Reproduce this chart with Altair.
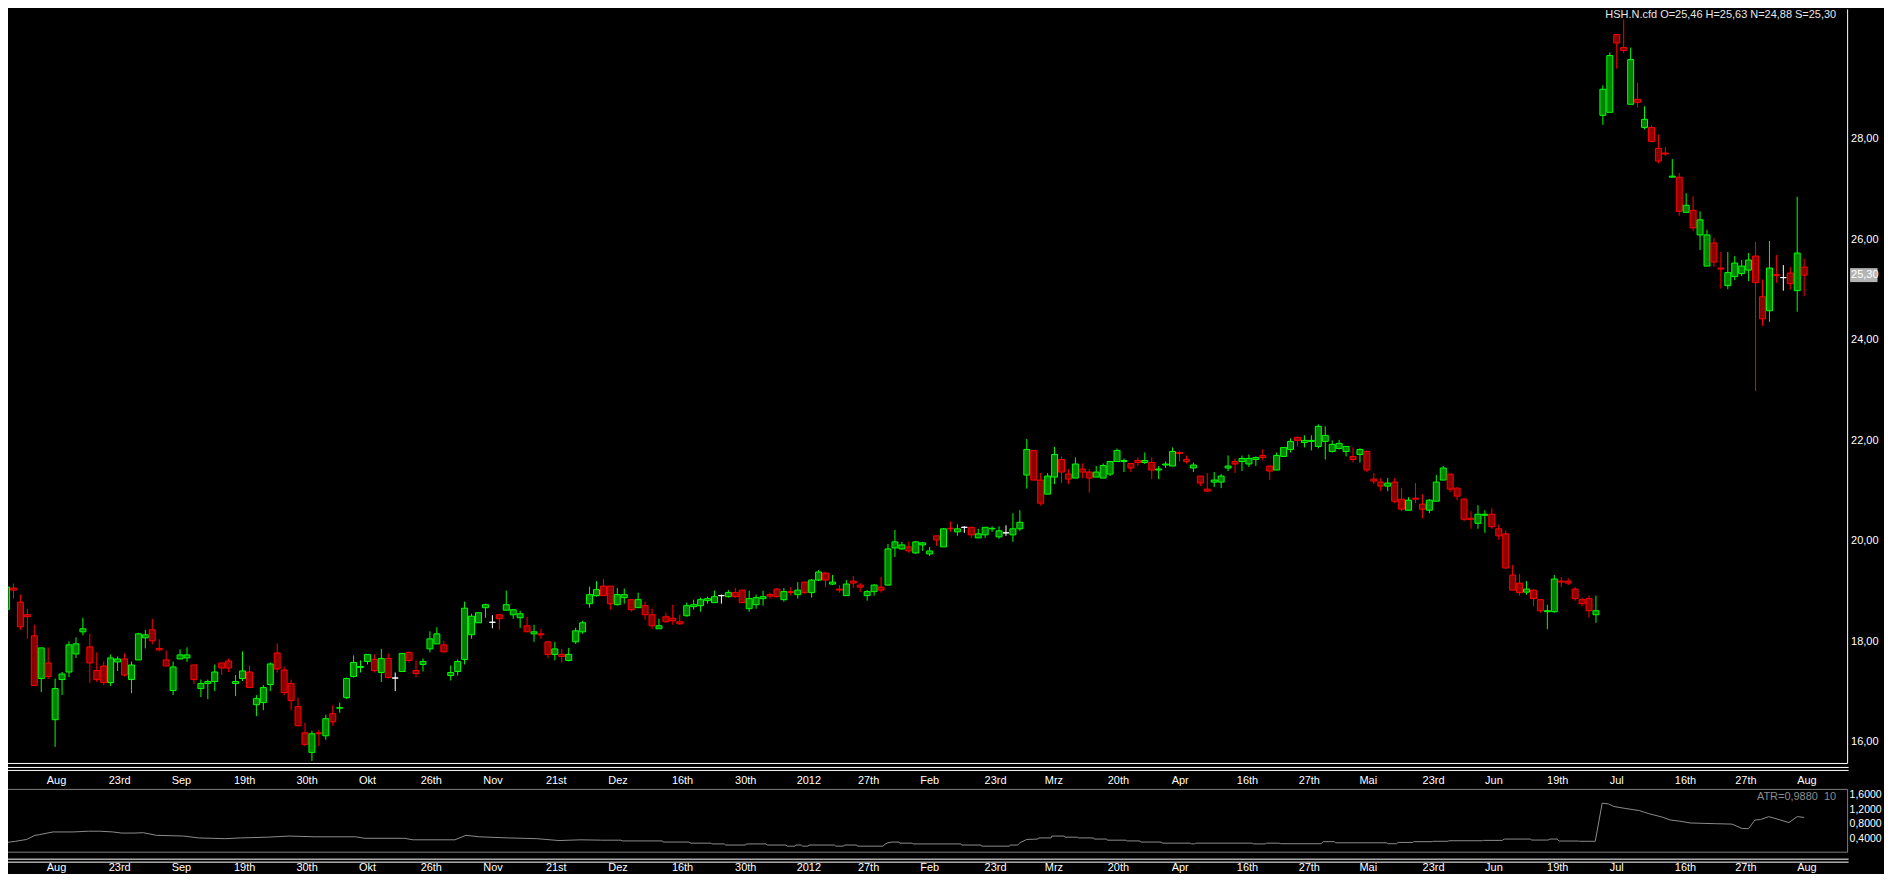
import altair as alt
import pandas as pd

FONT = "Liberation Sans"

# ---------------- data ----------------
opens = [
    18.65, 19.07, 18.79, 18.54, 18.12, 17.27, 17.58, 16.45, 17.25, 17.40,
    17.76, 18.20, 17.90, 17.43, 17.52, 17.19, 17.60, 17.66, 17.25, 17.64,
    18.08, 18.24, 17.87, 17.64, 17.03, 17.66, 17.68, 17.54, 17.07, 17.17,
    17.21, 17.58, 17.62, 17.17, 17.27, 17.40, 16.75, 16.79, 17.15, 17.78,
    17.44, 17.17, 16.71, 16.19, 15.80, 16.19, 16.13, 16.57, 16.68, 16.89,
    17.31, 17.49, 17.61, 17.65, 17.39, 17.67, 17.28, 17.41, 17.79, 17.43,
    17.55, 17.86, 17.96, 17.94, 17.33, 17.41, 17.65, 18.14, 18.38, 18.68,
    18.39, 18.54, 18.63, 18.54, 18.48, 18.32, 18.16, 18.16, 18.00, 17.75,
    17.75, 17.63, 18.00, 18.20, 18.76, 18.92, 19.11, 19.11, 18.74, 18.88,
    18.84, 18.68, 18.72, 18.54, 18.26, 18.50, 18.47, 18.40, 18.52, 18.70,
    18.72, 18.82, 18.78, 18.92, 18.90, 18.98, 19.03, 18.66, 18.74, 18.86,
    18.94, 19.05, 18.84, 19.00, 18.94, 19.19, 18.98, 19.23, 19.37, 19.15,
    19.05, 18.92, 19.21, 19.13, 18.92, 19.00, 19.09, 19.13, 19.87, 19.85,
    19.89, 19.77, 19.93, 19.75, 20.11, 19.89, 20.26, 20.19, 20.28, 20.28,
    20.07, 20.13, 20.25, 20.09, 20.17, 20.13, 20.25, 21.32, 21.81, 21.22,
    20.94, 21.28, 21.63, 21.34, 21.26, 21.44, 21.38, 21.28, 21.26, 21.34,
    21.59, 21.59, 21.55, 21.61, 21.57, 21.57, 21.42, 21.52, 21.50, 21.77,
    21.63, 21.46, 21.30, 21.04, 21.18, 21.18, 21.46, 21.59, 21.59, 21.54,
    21.63, 21.71, 21.50, 21.42, 21.69, 21.83, 22.07, 21.97, 21.99, 21.89,
    21.99, 21.79, 21.85, 21.79, 21.69, 21.73, 21.79, 21.24, 21.18, 21.10,
    21.18, 20.84, 20.62, 20.86, 20.74, 20.62, 20.80, 21.22, 21.34, 21.06,
    20.84, 20.46, 20.36, 20.52, 20.54, 20.25, 20.15, 19.33, 19.17, 18.99,
    19.03, 18.84, 18.60, 18.60, 19.21, 19.21, 19.05, 18.84, 18.86, 18.54,
    28.48, 28.54, 30.09, 29.83, 28.70, 28.80, 28.24, 28.24, 27.82, 27.73,
    27.25, 27.25, 26.55, 26.59, 26.10, 25.48, 25.94, 25.44, 25.09, 25.27,
    25.33, 25.40, 25.68, 24.87, 24.59, 25.31, 25.25, 25.34, 24.99, 25.46,
]
highs = [
    19.34, 19.16, 18.94, 18.66, 18.34, 17.88, 17.89, 17.27, 17.40, 18.01,
    18.09, 18.48, 18.16, 17.79, 17.61, 17.75, 17.71, 17.77, 17.61, 18.18,
    18.24, 18.46, 18.05, 17.83, 17.61, 17.85, 17.89, 17.54, 17.25, 17.25,
    17.55, 17.58, 17.67, 17.34, 17.81, 17.53, 16.94, 17.14, 17.59, 17.97,
    17.51, 17.25, 16.89, 16.39, 16.23, 16.25, 16.55, 16.74, 16.79, 17.29,
    17.73, 17.63, 17.75, 17.75, 17.86, 17.77, 17.39, 17.77, 17.81, 17.63,
    17.67, 18.21, 18.29, 18.02, 17.53, 17.65, 18.80, 18.56, 18.58, 18.76,
    18.53, 18.54, 19.02, 18.64, 18.62, 18.50, 18.34, 18.26, 18.00, 18.00,
    17.86, 17.88, 18.28, 18.42, 19.10, 19.21, 19.25, 19.11, 19.07, 19.06,
    18.84, 18.98, 18.80, 18.66, 18.46, 18.58, 18.74, 18.54, 18.78, 18.84,
    18.88, 18.90, 19.02, 18.94, 19.03, 19.07, 19.03, 19.02, 18.94, 19.02,
    18.98, 19.07, 19.07, 19.09, 19.19, 19.19, 19.25, 19.43, 19.39, 19.33,
    19.13, 19.23, 19.31, 19.17, 19.03, 19.15, 19.29, 19.95, 20.23, 19.99,
    19.99, 20.01, 19.99, 19.89, 20.11, 20.26, 20.40, 20.34, 20.30, 20.28,
    20.25, 20.28, 20.30, 20.30, 20.32, 20.56, 20.62, 22.04, 21.81, 21.36,
    21.36, 21.88, 21.69, 21.44, 21.67, 21.55, 21.44, 21.50, 21.55, 21.59,
    21.85, 21.65, 21.55, 21.67, 21.77, 21.67, 21.50, 21.59, 21.87, 21.79,
    21.71, 21.57, 21.30, 21.36, 21.38, 21.34, 21.71, 21.65, 21.71, 21.73,
    21.69, 21.83, 21.50, 21.77, 21.87, 22.05, 22.09, 22.11, 22.11, 22.33,
    22.29, 22.01, 22.02, 21.89, 21.87, 21.85, 21.81, 21.36, 21.26, 21.26,
    21.26, 21.06, 20.88, 21.16, 20.94, 20.84, 21.32, 21.50, 21.34, 21.08,
    20.86, 20.60, 20.72, 20.62, 20.66, 20.34, 20.22, 19.53, 19.35, 19.21,
    19.05, 18.84, 18.74, 19.33, 19.29, 19.27, 19.09, 18.88, 18.92, 18.92,
    29.08, 29.73, 30.09, 30.39, 29.83, 29.13, 28.66, 28.28, 28.10, 27.85,
    27.61, 27.33, 26.93, 26.87, 26.57, 26.20, 26.04, 25.76, 25.76, 25.68,
    25.60, 25.74, 25.96, 25.21, 25.98, 25.70, 25.50, 25.46, 26.86, 25.63,
]
lows = [
    18.65, 18.86, 18.24, 18.06, 17.13, 17.00, 17.26, 15.91, 16.94, 17.30,
    17.68, 18.13, 17.18, 17.20, 17.14, 17.12, 17.42, 17.31, 16.98, 17.64,
    17.87, 17.95, 17.81, 17.52, 16.94, 17.66, 17.60, 17.16, 16.90, 16.86,
    17.02, 17.34, 17.40, 16.92, 17.22, 17.09, 16.52, 16.64, 17.02, 17.39,
    16.94, 16.64, 16.33, 15.92, 15.63, 15.93, 16.05, 16.33, 16.59, 16.86,
    17.29, 17.39, 17.55, 17.39, 17.20, 17.27, 17.02, 17.41, 17.59, 17.30,
    17.41, 17.79, 17.96, 17.79, 17.23, 17.33, 17.55, 18.06, 18.38, 18.48,
    18.27, 18.24, 18.63, 18.46, 18.28, 18.20, 18.00, 18.06, 17.67, 17.63,
    17.59, 17.61, 17.96, 18.16, 18.68, 18.90, 18.92, 18.64, 18.72, 18.76,
    18.60, 18.68, 18.44, 18.26, 18.26, 18.38, 18.34, 18.34, 18.50, 18.64,
    18.60, 18.76, 18.78, 18.76, 18.88, 18.88, 18.78, 18.60, 18.66, 18.72,
    18.86, 18.88, 18.80, 18.92, 18.86, 18.96, 18.88, 19.21, 19.09, 19.13,
    18.98, 18.92, 19.07, 18.99, 18.82, 18.92, 18.98, 19.13, 19.69, 19.83,
    19.77, 19.75, 19.81, 19.71, 19.91, 19.89, 20.19, 20.11, 20.17, 20.07,
    20.07, 20.07, 20.19, 20.05, 20.11, 19.99, 20.21, 21.05, 21.22, 20.71,
    20.94, 21.14, 21.16, 21.14, 21.26, 21.26, 20.97, 21.28, 21.26, 21.30,
    21.59, 21.38, 21.38, 21.50, 21.54, 21.24, 21.24, 21.46, 21.50, 21.59,
    21.55, 21.38, 21.10, 20.98, 21.08, 21.06, 21.40, 21.36, 21.40, 21.48,
    21.50, 21.61, 21.22, 21.42, 21.69, 21.77, 21.89, 21.87, 21.81, 21.85,
    21.63, 21.77, 21.83, 21.69, 21.57, 21.57, 21.38, 21.14, 21.00, 21.00,
    20.76, 20.60, 20.62, 20.76, 20.46, 20.56, 20.80, 21.22, 20.98, 20.82,
    20.40, 20.25, 20.25, 20.17, 20.25, 20.03, 19.45, 19.03, 18.92, 18.94,
    18.71, 18.58, 18.25, 18.58, 19.09, 19.13, 18.82, 18.71, 18.48, 18.38,
    28.29, 28.54, 29.41, 29.72, 28.70, 28.64, 28.20, 27.94, 27.52, 27.67,
    27.25, 26.48, 26.55, 26.18, 25.80, 25.48, 25.46, 25.03, 25.02, 25.20,
    25.28, 25.18, 22.99, 24.29, 24.37, 25.15, 24.99, 25.01, 24.57, 24.88,
]
closes = [
    19.09, 19.03, 18.30, 18.50, 17.13, 17.88, 17.31, 17.07, 17.36, 17.94,
    17.96, 18.26, 17.58, 17.25, 17.19, 17.68, 17.66, 17.34, 17.54, 18.16,
    18.14, 18.02, 17.84, 17.52, 17.50, 17.74, 17.74, 17.25, 17.17, 17.21,
    17.40, 17.48, 17.48, 17.21, 17.42, 17.09, 16.87, 17.09, 17.56, 17.46,
    16.99, 16.83, 16.33, 15.96, 16.17, 16.17, 16.47, 16.41, 16.69, 17.27,
    17.59, 17.51, 17.75, 17.43, 17.67, 17.29, 17.28, 17.77, 17.63, 17.37,
    17.61, 18.06, 18.16, 17.80, 17.39, 17.61, 18.67, 18.51, 18.58, 18.74,
    18.39, 18.46, 18.74, 18.64, 18.56, 18.20, 18.20, 18.14, 17.75, 17.86,
    17.71, 17.75, 18.22, 18.38, 18.94, 19.04, 18.92, 18.76, 18.94, 18.94,
    18.64, 18.84, 18.54, 18.32, 18.32, 18.40, 18.42, 18.36, 18.72, 18.74,
    18.84, 18.86, 18.90, 18.92, 18.98, 18.90, 18.78, 18.86, 18.88, 18.90,
    18.91, 18.90, 19.00, 18.98, 19.03, 18.98, 19.23, 19.39, 19.23, 19.19,
    19.03, 19.15, 19.17, 19.09, 19.00, 19.13, 19.03, 19.85, 19.99, 19.93,
    19.81, 19.99, 19.97, 19.81, 20.03, 20.25, 20.25, 20.25, 20.28, 20.13,
    20.15, 20.28, 20.26, 20.21, 20.17, 20.25, 20.38, 21.83, 21.22, 20.76,
    21.30, 21.73, 21.38, 21.24, 21.54, 21.38, 21.26, 21.38, 21.51, 21.59,
    21.81, 21.61, 21.46, 21.57, 21.61, 21.42, 21.44, 21.54, 21.79, 21.75,
    21.59, 21.52, 21.16, 21.00, 21.22, 21.30, 21.50, 21.54, 21.65, 21.65,
    21.67, 21.67, 21.40, 21.71, 21.87, 21.99, 22.01, 22.01, 22.01, 22.29,
    22.11, 21.93, 21.95, 21.89, 21.63, 21.83, 21.42, 21.20, 21.10, 21.16,
    20.80, 20.64, 20.82, 20.84, 20.64, 20.82, 21.18, 21.46, 21.04, 20.90,
    20.44, 20.44, 20.54, 20.54, 20.29, 20.11, 19.47, 19.03, 18.98, 19.05,
    18.86, 18.62, 18.62, 19.25, 19.19, 19.17, 18.86, 18.76, 18.62, 18.62,
    29.00, 29.67, 29.92, 29.77, 29.59, 28.74, 28.40, 27.96, 27.57, 27.71,
    27.27, 26.57, 26.69, 26.24, 26.40, 26.10, 25.56, 25.42, 25.35, 25.54,
    25.48, 25.60, 25.15, 24.43, 25.44, 25.29, 25.25, 25.13, 25.74, 25.30,
]

# ATR(10) line: (bar index, value) vertices
atr_points = [
    (0, 0.32), (1.3, 0.35), (2.9, 0.40), (4.1, 0.51), (4.8, 0.53), (6.7, 0.60),
    (9.6, 0.60), (11.8, 0.62), (13.4, 0.62), (15.3, 0.60), (16.6, 0.57),
    (18.5, 0.57), (19.7, 0.58), (21.6, 0.51), (25.5, 0.49), (27.7, 0.44),
    (31.5, 0.42), (33.7, 0.44), (37.6, 0.46), (40.7, 0.49), (44.6, 0.47),
    (50.3, 0.47), (51.6, 0.43), (57.3, 0.43), (58.6, 0.39), (64.6, 0.39),
    (66.2, 0.51), (68.1, 0.47), (72.3, 0.44), (76.4, 0.42), (79.6, 0.37),
    (82.8, 0.39), (85.6, 0.38), (88.5, 0.38), (88.7, 0.36), (94.5, 0.36),
    (94.6, 0.33), (98.3, 0.33), (98.6, 0.30), (101.5, 0.30), (101.6, 0.28),
    (103.4, 0.28), (103.6, 0.25), (106.5, 0.25), (106.6, 0.28), (109.4, 0.28),
    (109.6, 0.25), (112.3, 0.25), (112.5, 0.22), (113.6, 0.22), (113.7, 0.25),
    (114.5, 0.25), (114.7, 0.22), (115.5, 0.22), (115.6, 0.25), (119.3, 0.25),
    (119.5, 0.22), (120.6, 0.22), (120.7, 0.25), (122.5, 0.25), (122.6, 0.22),
    (126.3, 0.22), (126.6, 0.28), (127.0, 0.31), (127.6, 0.33), (128.6, 0.33),
    (128.7, 0.30), (130.5, 0.30), (130.6, 0.28), (137.5, 0.28), (137.6, 0.25),
    (140.4, 0.25), (140.5, 0.22), (144.5, 0.22), (144.6, 0.25), (145.7, 0.25),
    (146.0, 0.31), (147.0, 0.40), (148.6, 0.41), (148.7, 0.44), (150.5, 0.44),
    (150.6, 0.49), (152.4, 0.49), (152.5, 0.46), (154.3, 0.46), (154.4, 0.44),
    (156.6, 0.44), (156.7, 0.41), (158.5, 0.41), (158.6, 0.38), (161.3, 0.38),
    (161.4, 0.36), (163.3, 0.36), (163.4, 0.33), (166.4, 0.33), (166.5, 0.30),
    (170.6, 0.30), (170.7, 0.28), (171.2, 0.28), (171.3, 0.30), (179.5, 0.30),
    (179.6, 0.28), (181.4, 0.28), (181.5, 0.30), (183.3, 0.30), (183.6, 0.285),
    (189.4, 0.285), (189.7, 0.34), (191.3, 0.34), (191.5, 0.31), (198.8, 0.31),
    (199.1, 0.285), (200.3, 0.285), (200.5, 0.32), (202.6, 0.32), (202.7, 0.34),
    (205.4, 0.34), (205.5, 0.35), (207.7, 0.35), (207.8, 0.365), (212.7, 0.365),
    (212.8, 0.374), (215.5, 0.374), (215.8, 0.41), (219.6, 0.41), (219.7, 0.383),
    (222.1, 0.383), (222.4, 0.41), (223.4, 0.41), (223.7, 0.357), (226.5, 0.357),
    (226.6, 0.35), (228.9, 0.35), (229.9, 1.37), (230.8, 1.35), (231.6, 1.28),
    (233.2, 1.23), (235.3, 1.17), (236.6, 1.09), (238.5, 1.00), (239.7, 0.92),
    (241.0, 0.89), (242.6, 0.84), (246.4, 0.82), (248.6, 0.81), (250.1, 0.69),
    (251.0, 0.69), (251.9, 0.92), (252.7, 0.93), (253.9, 1.01), (255.4, 0.93),
    (256.8, 0.85), (258.0, 1.01), (259.0, 0.988),
]
atr_period = 10

# date axis labels (bar position of each label, label text)
tick_bar = [7.2, 16.3, 25.2, 34.3, 43.3, 52.0, 61.2, 70.1, 79.2, 88.1,
            97.4, 106.5, 115.6, 124.2, 133.0, 142.5, 150.9, 160.2, 169.1, 178.8,
            187.7, 196.2, 205.6, 214.3, 223.5, 232.0, 241.9, 250.6, 259.4]
tick_label = ["Aug", "23rd", "Sep", "19th", "30th", "Okt", "26th", "Nov", "21st", "Dez",
              "16th", "30th", "2012", "27th", "Feb", "23rd", "Mrz", "20th", "Apr", "16th",
              "27th", "Mai", "23rd", "Jun", "19th", "Jul", "16th", "27th", "Aug"]

price_ticks = [16, 18, 20, 22, 24, 26, 28]
atr_ticks = [0.4, 0.8, 1.2, 1.6]
symbol = "HSH.N.cfd"

# ---------------- helpers / tables ----------------
n = len(opens)
assert all(len(a) == n for a in (highs, lows, closes))


def de(v, d=2):
    return f"{v:.{d}f}".replace(".", ",")


df = pd.DataFrame({"i": list(range(n)), "o": opens, "h": highs, "l": lows, "c": closes})
df["dir"] = ["up" if c > o else ("down" if c < o else "flat") for o, c in zip(opens, closes)]

atr_df = pd.DataFrame({"b": [p[0] for p in atr_points], "v": [p[1] for p in atr_points]})
tick_df = pd.DataFrame({"b": tick_bar, "t": tick_label})
ptick_df = pd.DataFrame({"p": price_ticks, "t": [de(v) for v in price_ticks]})
atick_df = pd.DataFrame({"v": atr_ticks, "t": [de(v, 4) for v in atr_ticks]})
last_df = pd.DataFrame({"p": [closes[-1]], "t": [de(closes[-1])]})
header_df = pd.DataFrame({"t": [f"{symbol} O={de(opens[-1])} H={de(highs[-1])} "
                                f"N={de(lows[-1])} S={de(closes[-1])}"]})
atr_txt_df = pd.DataFrame({"t": [f"ATR={de(atr_points[-1][1], 4)}\u00a0\u00a0{atr_period}"]})
one = pd.DataFrame({"k": [0]})

# ---------------- layout (pixels) ----------------
W, H = 1882, 866
BAR_PX = 7.0
X_LEFT = 6.5 / BAR_PX            # bar index at the left edge
PY28, PPU = 130.5, 50.4          # y of price 28, pixels per unit
AY0, APU = 847.7, 37.5           # y of ATR 0, pixels per unit
RIGHT = 1845.5                   # panel right border
MAIN_BOTTOM = 756.5
ATR_TOP, ATR_BOTTOM = 782.5, 845.5

xscale = alt.Scale(domain=[X_LEFT, X_LEFT + W / BAR_PX], nice=False, zero=False)
pscale = alt.Scale(domain=[28 - (H - PY28) / PPU, 28 + PY28 / PPU], nice=False, zero=False)
ascale = alt.Scale(domain=[(AY0 - H) / APU, AY0 / APU], nice=False, zero=False)

bright = alt.Scale(domain=["up", "down", "flat"], range=["#00ff00", "#ff0000", "#ffffff"])
dark = alt.Scale(domain=["up", "down", "flat"], range=["#008200", "#8c0000", "#ffffff"])

xi = alt.X("i:Q", scale=xscale, axis=None)

wicks = alt.Chart(df).mark_rule(strokeWidth=1, clip=True).encode(
    x=xi,
    y=alt.Y("l:Q", scale=pscale, axis=None),
    y2="h:Q",
    color=alt.Color("dir:N", scale=bright, legend=None),
)
bodies = alt.Chart(df).mark_bar(size=6, strokeWidth=1, clip=True).encode(
    x=xi,
    y=alt.Y("o:Q", scale=pscale, axis=None),
    y2="c:Q",
    fill=alt.Fill("dir:N", scale=dark, legend=None),
    stroke=alt.Stroke("dir:N", scale=bright, legend=None),
)

price_labels = alt.Chart(ptick_df).mark_text(
    align="left", baseline="middle", font=FONT, fontSize=11, color="#ffffff"
).encode(x=alt.value(RIGHT + 3.5), y=alt.Y("p:Q", scale=pscale, axis=None), text="t:N")

last_box = alt.Chart(last_df).mark_rect(color="#b4b4b4", yOffset=-7, y2Offset=7).encode(
    x=alt.value(RIGHT + 2.5), x2=alt.value(RIGHT + 30),
    y=alt.Y("p:Q", scale=pscale, axis=None), y2="p:Q",
)
last_text = alt.Chart(last_df).mark_text(
    align="left", baseline="middle", font=FONT, fontSize=11, color="#ffffff"
).encode(x=alt.value(RIGHT + 3.5), y=alt.Y("p:Q", scale=pscale, axis=None), text="t:N")

header = alt.Chart(header_df).mark_text(
    align="right", baseline="top", font=FONT, fontSize=11, color="#e6e6e6"
).encode(x=alt.value(1834), y=alt.value(0), text="t:N")

atr_line = alt.Chart(atr_df).mark_line(color="#8c8c8c", strokeWidth=1, clip=True).encode(
    x=alt.X("b:Q", scale=xscale, axis=None),
    y=alt.Y("v:Q", scale=ascale, axis=None),
    order="b:Q",
)
atr_labels = alt.Chart(atick_df).mark_text(
    align="left", baseline="middle", font=FONT, fontSize=10.5, color="#ffffff"
).encode(x=alt.value(RIGHT + 2), y=alt.Y("v:Q", scale=ascale, axis=None), text="t:N")
atr_text = alt.Chart(atr_txt_df).mark_text(
    align="right", baseline="middle", font=FONT, fontSize=11, color="#8c8c8c"
).encode(x=alt.value(1834), y=alt.value(790), text="t:N")


def date_row(y):
    return alt.Chart(tick_df).mark_text(
        align="center", baseline="middle", font=FONT, fontSize=11, color="#ffffff"
    ).encode(x=alt.X("b:Q", scale=xscale, axis=None), y=alt.value(y), text="t:N")


def hrule(y, color, x2=RIGHT + 1):
    return alt.Chart(one).mark_rule(color=color, strokeWidth=1).encode(
        x=alt.value(0), x2=alt.value(x2), y=alt.value(y))


def vrule(x, y1, y2, color):
    return alt.Chart(one).mark_rule(color=color, strokeWidth=1).encode(
        x=alt.value(x), y=alt.value(y1), y2=alt.value(y2))


decor = [
    vrule(RIGHT, 0, MAIN_BOTTOM, "#ffffff"),
    hrule(MAIN_BOTTOM, "#ffffff", RIGHT),
    hrule(760.5, "#ffffff"),
    hrule(763.5, "#ffffff"),
    hrule(ATR_TOP, "#808080", RIGHT),
    hrule(ATR_BOTTOM, "#808080", RIGHT),
    vrule(RIGHT, ATR_TOP, ATR_BOTTOM, "#808080"),
    hrule(852.5, "#ffffff"),
    hrule(855.5, "#ffffff"),
]

chart = alt.layer(
    *decor,
    wicks, bodies,
    price_labels, last_box, last_text, header,
    atr_line, atr_labels, atr_text,
    date_row(774), date_row(861),
).resolve_scale(y="independent").properties(
    width=W, height=H, padding=0, background="#000000",
    autosize=alt.AutoSizeParams(type="none"),
).configure_view(strokeWidth=0, fill="#000000")

chart.save("out.html", embed_options={"renderer": "svg", "actions": False})
